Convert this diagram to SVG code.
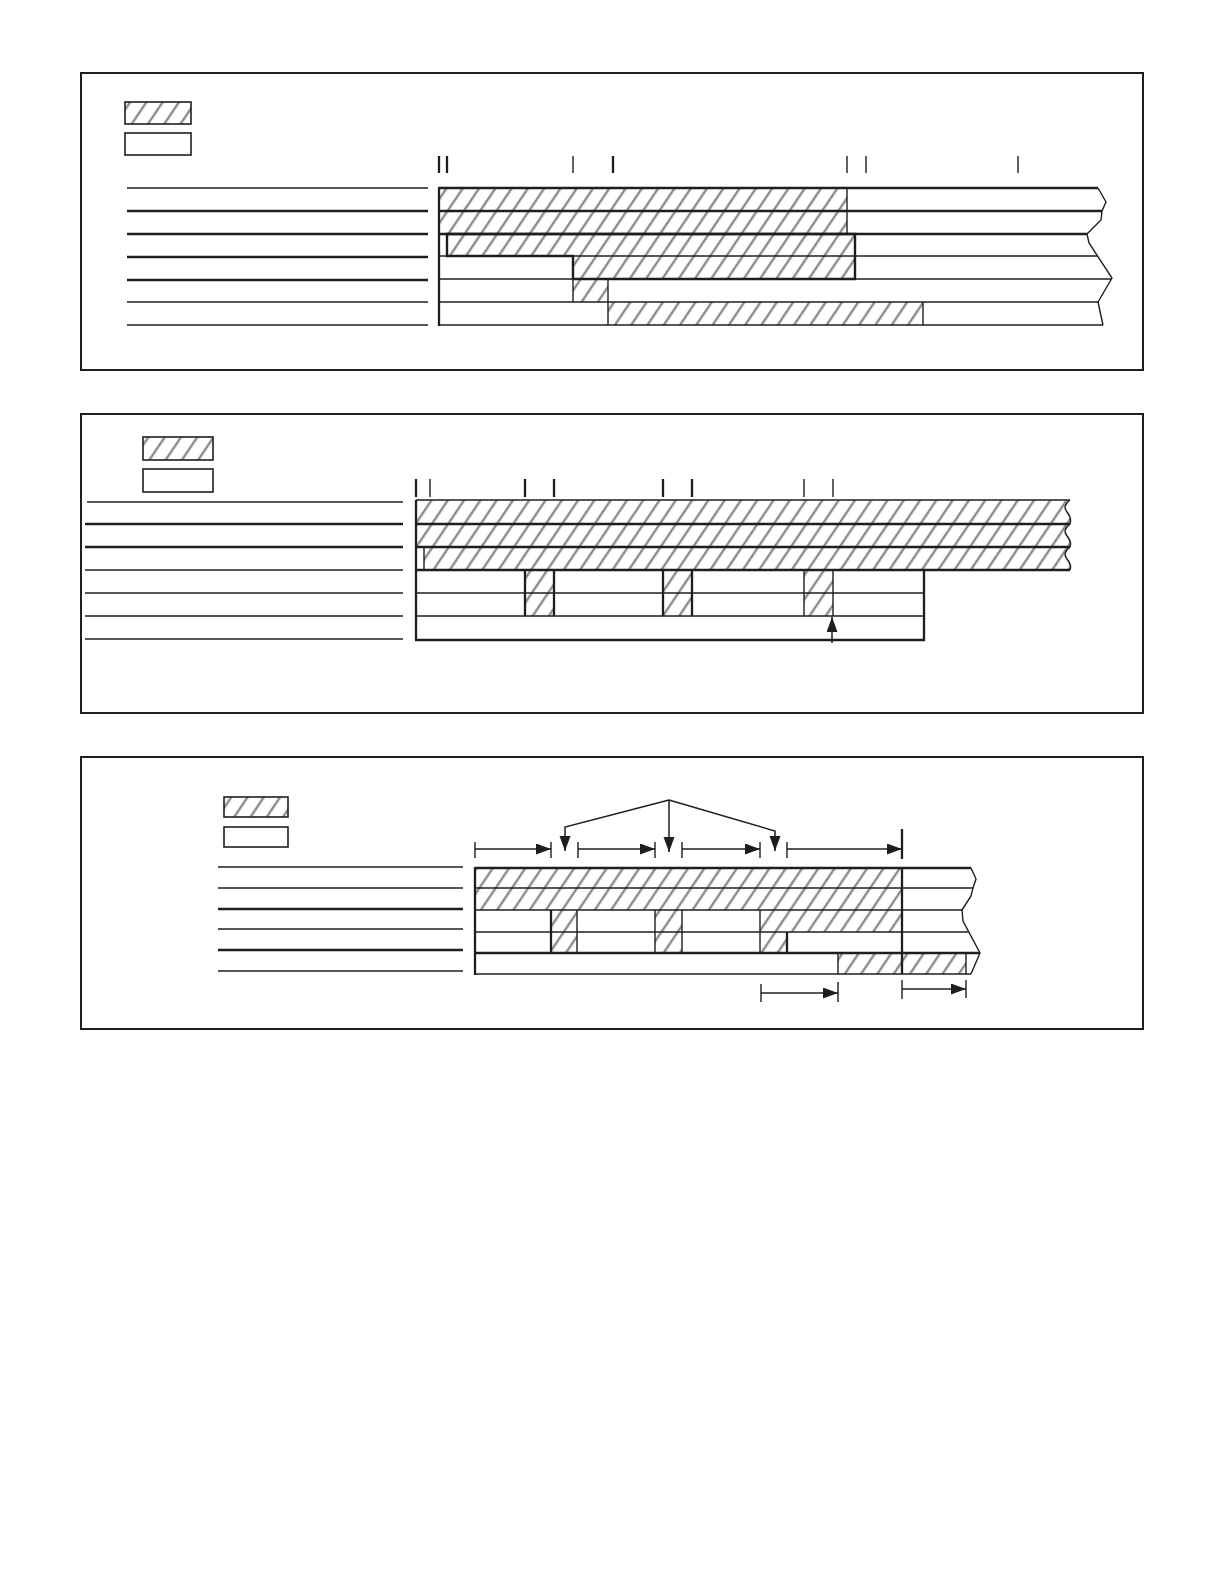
<svg xmlns="http://www.w3.org/2000/svg" width="1224" height="1584" viewBox="0 0 1224 1584">
<style>
.fr{fill:none;stroke:#1e1e1e;stroke-width:2}
.ln{stroke:#1e1e1e;stroke-width:1.4;fill:none}
.tk{stroke:#1e1e1e;stroke-width:2.3;fill:none}
.ht{fill:url(#hatch);stroke:none}
.bx{fill:none;stroke:#1e1e1e;stroke-width:1.6}
.bxt{fill:none;stroke:#1e1e1e;stroke-width:2.4}
.ar{stroke:#1e1e1e;stroke-width:1.5;fill:none;marker-end:url(#ah)}
</style>
<defs>
<pattern id="hatch" patternUnits="userSpaceOnUse" width="13.5" height="13.5" patternTransform="rotate(34)">
<line x1="3" y1="-2" x2="3" y2="16" stroke="#8a8a8a" stroke-width="2.4"/>
</pattern>
<marker id="ah" markerUnits="userSpaceOnUse" markerWidth="16" markerHeight="12" refX="15" refY="5.5" orient="auto">
<path d="M0,0 L15,5.5 L0,11 Z" fill="#1e1e1e"/>
</marker>
</defs>
<rect width="1224" height="1584" fill="#fff"/>

<!-- Panel 1 -->
<g id="panel1">
<rect class="fr" x="81" y="73" width="1062" height="297"/>
<g id="p1-legend">
<rect class="ht" x="125" y="102" width="66" height="22"/>
<rect class="bx" x="125" y="102" width="66" height="22"/>
<rect class="bx" x="125" y="133" width="66" height="22"/>
</g>
<g id="p1-labels">
<line class="ln" x1="127" y1="188" x2="428" y2="188"/>
<line class="tk" x1="127" y1="211" x2="428" y2="211"/>
<line class="tk" x1="127" y1="234" x2="428" y2="234"/>
<line class="tk" x1="127" y1="257" x2="428" y2="257"/>
<line class="tk" x1="127" y1="280" x2="428" y2="280"/>
<line class="ln" x1="127" y1="302" x2="428" y2="302"/>
<line class="ln" x1="127" y1="325" x2="428" y2="325"/>
</g>
<g id="p1-ticks">
<line class="tk" x1="439" y1="156" x2="439" y2="173"/>
<line class="tk" x1="447" y1="156" x2="447" y2="173"/>
<line class="ln" x1="573" y1="156" x2="573" y2="173"/>
<line class="tk" x1="613" y1="156" x2="613" y2="173"/>
<line class="ln" x1="847" y1="156" x2="847" y2="173"/>
<line class="ln" x1="866" y1="156" x2="866" y2="173"/>
<line class="ln" x1="1018" y1="156" x2="1018" y2="173"/>
</g>
<g id="p1-chart">
<rect class="ht" x="439" y="188" width="408" height="46"/>
<polygon class="ht" points="447,234 855,234 855,279 573,279 573,256 447,256"/>
<rect class="ht" x="573" y="279" width="35" height="23"/>
<rect class="ht" x="608" y="302" width="315" height="23"/>
<line class="tk" x1="439" y1="188" x2="1098" y2="188"/>
<line class="tk" x1="439" y1="211" x2="1102" y2="211"/>
<line class="tk" x1="439" y1="234" x2="1087" y2="234"/>
<line class="ln" x1="439" y1="256" x2="1097" y2="256"/>
<line class="ln" x1="439" y1="279" x2="1111" y2="279"/>
<line class="ln" x1="439" y1="302" x2="1098" y2="302"/>
<line class="ln" x1="439" y1="325" x2="1103" y2="325"/>
<line class="tk" x1="439" y1="187" x2="439" y2="326"/>
<line class="ln" x1="847" y1="188" x2="847" y2="234"/>
<polygon class="bxt" points="447,234 855,234 855,279 573,279 573,256 447,256"/>
<line class="ln" x1="573" y1="256" x2="573" y2="302"/>
<line class="ln" x1="608" y1="279" x2="608" y2="325"/>
<line class="ln" x1="923" y1="302" x2="923" y2="325"/>
<polyline class="ln" points="1098,188 1106,202 1102,211 1101,220 1087,234 1089,243 1112,278 1098,302 1103,325"/>
</g>
</g>

<!-- Panel 2 -->
<g id="panel2">
<rect class="fr" x="81" y="414" width="1062" height="299"/>
<g id="p2-legend">
<rect class="ht" x="143" y="437" width="70" height="23"/>
<rect class="bx" x="143" y="437" width="70" height="23"/>
<rect class="bx" x="143" y="469" width="70" height="23"/>
</g>
<g id="p2-labels">
<line class="ln" x1="87" y1="502" x2="403" y2="502"/>
<line class="tk" x1="85" y1="524" x2="403" y2="524"/>
<line class="tk" x1="85" y1="547" x2="403" y2="547"/>
<line class="ln" x1="85" y1="570" x2="403" y2="570"/>
<line class="ln" x1="85" y1="593" x2="403" y2="593"/>
<line class="ln" x1="85" y1="616" x2="403" y2="616"/>
<line class="ln" x1="85" y1="639" x2="403" y2="639"/>
</g>
<g id="p2-ticks">
<line class="tk" x1="416" y1="479" x2="416" y2="497"/>
<line class="ln" x1="430" y1="479" x2="430" y2="497"/>
<line class="tk" x1="525" y1="479" x2="525" y2="497"/>
<line class="tk" x1="554" y1="479" x2="554" y2="497"/>
<line class="tk" x1="663" y1="479" x2="663" y2="497"/>
<line class="tk" x1="692" y1="479" x2="692" y2="497"/>
<line class="ln" x1="804" y1="479" x2="804" y2="497"/>
<line class="ln" x1="833" y1="479" x2="833" y2="497"/>
</g>
<g id="p2-chart">
<path class="ht" d="M416,500 L1070,500 Q1062,506 1067,512 Q1072,518 1070,524 Q1062,530 1067,536 Q1072,542 1070,547 Q1062,553 1067,559 Q1072,565 1070,570 L424,570 L424,547 L416,547 Z"/>
<rect class="ht" x="525" y="570" width="29" height="46"/>
<rect class="ht" x="663" y="570" width="29" height="46"/>
<rect class="ht" x="804" y="570" width="29" height="46"/>
<line class="ln" x1="416" y1="500" x2="1070" y2="500"/>
<line class="tk" x1="416" y1="524" x2="1070" y2="524"/>
<line class="tk" x1="416" y1="547" x2="1070" y2="547"/>
<line class="tk" x1="416" y1="570" x2="1070" y2="570"/>
<line class="ln" x1="416" y1="593" x2="924" y2="593"/>
<line class="ln" x1="416" y1="616" x2="924" y2="616"/>
<line class="tk" x1="415" y1="640" x2="925" y2="640"/>
<line class="tk" x1="416" y1="500" x2="416" y2="640"/>
<line class="ln" x1="424" y1="547" x2="424" y2="570"/>
<line class="tk" x1="525" y1="570" x2="525" y2="616"/>
<line class="tk" x1="554" y1="570" x2="554" y2="616"/>
<line class="tk" x1="663" y1="570" x2="663" y2="616"/>
<line class="tk" x1="692" y1="570" x2="692" y2="616"/>
<line class="ln" x1="804" y1="570" x2="804" y2="616"/>
<line class="ln" x1="833" y1="570" x2="833" y2="616"/>
<line class="tk" x1="924" y1="570" x2="924" y2="641"/>
<path class="ln" d="M1070,500 Q1062,506 1067,512 Q1072,518 1070,524 Q1062,530 1067,536 Q1072,542 1070,547 Q1062,553 1067,559 Q1072,565 1070,570"/>
</g>
</g>

<!-- Panel 3 -->
<g id="panel3">
<rect class="fr" x="81" y="757" width="1062" height="272"/>
<g id="p3-legend">
<rect class="ht" x="224" y="797" width="64" height="20"/>
<rect class="bx" x="224" y="797" width="64" height="20"/>
<rect class="bx" x="224" y="827" width="64" height="20"/>
</g>
<g id="p3-labels">
<line class="ln" x1="218" y1="867" x2="463" y2="867"/>
<line class="ln" x1="218" y1="888" x2="463" y2="888"/>
<line class="tk" x1="218" y1="909" x2="463" y2="909"/>
<line class="ln" x1="218" y1="929" x2="463" y2="929"/>
<line class="tk" x1="218" y1="950" x2="463" y2="950"/>
<line class="ln" x1="218" y1="971" x2="463" y2="971"/>
</g>
<g id="p3-chart">
<rect class="ht" x="475" y="868" width="427" height="42"/>
<rect class="ht" x="551" y="910" width="26" height="43"/>
<rect class="ht" x="655" y="910" width="27" height="43"/>
<polygon class="ht" points="760,910 902,910 902,932 787,932 787,953 760,953"/>
<rect class="ht" x="838" y="953" width="128" height="21"/>
<line class="tk" x1="475" y1="868" x2="971" y2="868"/>
<line class="ln" x1="475" y1="888" x2="973" y2="888"/>
<line class="ln" x1="475" y1="910" x2="962" y2="910"/>
<line class="ln" x1="475" y1="932" x2="969" y2="932"/>
<line class="tk" x1="475" y1="953" x2="980" y2="953"/>
<line class="ln" x1="475" y1="974" x2="971" y2="974"/>
<line class="tk" x1="475" y1="867" x2="475" y2="975"/>
<line class="tk" x1="551" y1="910" x2="551" y2="953"/>
<line class="ln" x1="577" y1="910" x2="577" y2="953"/>
<line class="ln" x1="655" y1="910" x2="655" y2="953"/>
<line class="ln" x1="682" y1="910" x2="682" y2="953"/>
<line class="ln" x1="760" y1="910" x2="760" y2="953"/>
<line class="tk" x1="787" y1="932" x2="787" y2="953"/>
<line class="tk" x1="902" y1="868" x2="902" y2="974"/>
<line class="ln" x1="838" y1="953" x2="838" y2="974"/>
<line class="ln" x1="966" y1="953" x2="966" y2="974"/>
<polyline class="ln" points="971,868 976,879 973,888 971,896 962,910 963,921 980,953 971,974"/>
</g>
</g>

<!-- Connectors -->
<g id="connectors">
<g id="p2-arrow">
<line class="ar" x1="832" y1="643" x2="832" y2="617"/>
</g>
<g id="p3-dims-top">
<line class="ln" x1="475" y1="842" x2="475" y2="858"/>
<line class="ln" x1="551" y1="842" x2="551" y2="858"/>
<line class="ln" x1="578" y1="842" x2="578" y2="858"/>
<line class="ln" x1="655" y1="842" x2="655" y2="858"/>
<line class="ln" x1="682" y1="842" x2="682" y2="858"/>
<line class="ln" x1="760" y1="842" x2="760" y2="858"/>
<line class="ln" x1="787" y1="842" x2="787" y2="858"/>
<line class="tk" x1="902" y1="829" x2="902" y2="859"/>
<line class="ar" x1="475" y1="849" x2="551" y2="849"/>
<line class="ar" x1="578" y1="849" x2="655" y2="849"/>
<line class="ar" x1="682" y1="849" x2="760" y2="849"/>
<line class="ar" x1="787" y1="849" x2="902" y2="849"/>
<polyline class="ar" points="669,800 565,827 565,851"/>
<line class="ar" x1="669" y1="800" x2="669" y2="852"/>
<polyline class="ar" points="669,800 775,831 775,851"/>
</g>
<g id="p3-dims-bottom">
<line class="ln" x1="761" y1="984" x2="761" y2="1002"/>
<line class="ln" x1="838" y1="982" x2="838" y2="1002"/>
<line class="ar" x1="761" y1="993" x2="838" y2="993"/>
<line class="ln" x1="902" y1="980" x2="902" y2="999"/>
<line class="ln" x1="966" y1="980" x2="966" y2="998"/>
<line class="ar" x1="902" y1="989" x2="966" y2="989"/>
</g>
</g>
</svg>
